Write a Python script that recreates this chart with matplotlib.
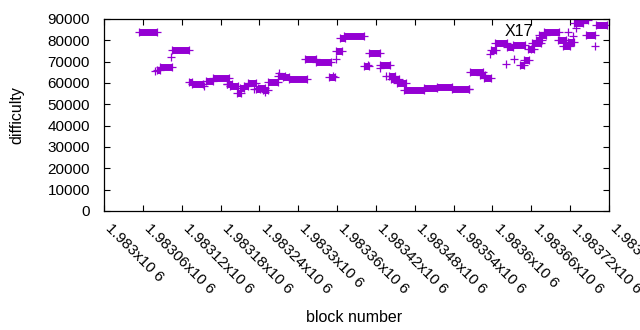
import matplotlib
matplotlib.use("Agg")
import matplotlib.pyplot as plt
from matplotlib.transforms import ScaledTranslation

plt.rcParams['font.family'] = ['Liberation Sans', 'DejaVu Sans']

# difficulty steps: first block, last block, difficulty
seg_start = [1983054, 1983082, 1983087, 1983105, 1983132, 1983136, 1983158, 1983169,
             1983190, 1983195, 1983206, 1983210, 1983217, 1983223, 1983235, 1983238,
             1983245, 1983254, 1983269, 1983277, 1983285, 1983311, 1983327, 1983348,
             1983359, 1983365, 1983371, 1983402, 1983409, 1983426, 1983440, 1983444,
             1983453, 1983464, 1983494, 1983515, 1983537, 1983566, 1983580, 1983587,
             1983597, 1983604, 1983622, 1983631, 1983642, 1983648, 1983655, 1983661,
             1983667, 1983672, 1983679, 1983701, 1983709, 1983717, 1983726, 1983732,
             1983744, 1983760]
seg_end = [1983082, 1983087, 1983105, 1983132, 1983136, 1983153, 1983169, 1983193,
           1983197, 1983207, 1983212, 1983217, 1983223, 1983235, 1983241, 1983248,
           1983254, 1983269, 1983279, 1983285, 1983313, 1983327, 1983350, 1983357,
           1983367, 1983373, 1983402, 1983409, 1983426, 1983441, 1983449, 1983455,
           1983466, 1983494, 1983515, 1983537, 1983563, 1983585, 1983588, 1983597,
           1983605, 1983622, 1983631, 1983650, 1983648, 1983656, 1983664, 1983675,
           1983676, 1983682, 1983703, 1983713, 1983720, 1983726, 1983740, 1983748,
           1983758, 1983777]
seg_diff = [84000, 66300, 67700, 75300, 60600, 59700, 61000, 62200,
            59300, 58400, 55200, 57500, 58600, 59800, 57200, 57500,
            56900, 60300, 63400, 62700, 61800, 71100, 70000, 62800,
            74900, 81000, 82200, 68000, 74000, 68300, 63300, 61700,
            59800, 56600, 57500, 58000, 57000, 65300, 63600, 62500,
            75600, 78600, 77000, 78000, 68500, 70800, 75800, 78600,
            80100, 82500, 84000, 80000, 77200, 79400, 88000, 89500,
            82500, 87000]

# single blocks off the steps
pt_block = [1983079, 1983104, 1983155, 1983190, 1983232, 1983249, 1983271, 1983353,
            1983359, 1983407, 1983426, 1983435, 1983563, 1983596, 1983621, 1983633,
            1983659, 1983717, 1983725, 1983729, 1983758]
pt_diff = [65800, 72000, 58700, 59400, 57200, 56000, 64500, 63300,
           71100, 68400, 67000, 63300, 57300, 73600, 68900, 71100,
           75800, 83700, 82200, 85600, 77300]

xticks = list(range(1983000, 1983781, 60))
yticks = list(range(0, 90001, 10000))

color = '#9400d3'

fig = plt.figure(figsize=(6.4, 3.3), dpi=100)
ax = fig.add_axes([104 / 640, 1 - 211 / 330, 505 / 640, 192 / 330])

lc = ax.hlines(seg_diff, seg_start, seg_end, colors=color, linewidth=5.0)
lc.set_capstyle('butt')
ax.plot(seg_start + seg_end, seg_diff + seg_diff, '+', color=color,
        markersize=5.5, markeredgewidth=0.9, linestyle='none')
ax.plot(pt_block, pt_diff, '+', color=color,
        markersize=5.5, markeredgewidth=0.9, linestyle='none')

ax.text(1983641, 84000, 'X17', fontsize=11.5, ha='center', va='center')

ax.set_xlim(1983000, 1983780)
ax.set_ylim(0, 90000)
ax.set_xticks(xticks)
ax.set_xticklabels(['%gx10 6' % (t / 1e6) for t in xticks],
                   rotation=-45, ha='left', va='top', rotation_mode='anchor')
ax.set_yticks(yticks)
ax.set_yticklabels([str(t) for t in yticks])
ax.tick_params(direction='in', top=True, right=True, length=4.5, width=0.8,
               labelsize=11)
ax.tick_params(axis='y', pad=10)
ax.tick_params(axis='x', pad=7)
shift = ScaledTranslation(9 / 100, 0, fig.dpi_scale_trans)
for lab in ax.get_xticklabels():
    lab.set_transform(lab.get_transform() + shift)
for s in ax.spines.values():
    s.set_linewidth(0.9)

ax.set_xlabel('block number', fontsize=11.5)
ax.xaxis.set_label_coords(0.495, -0.515)
ax.set_ylabel('difficulty', fontsize=11.5)
ax.yaxis.set_label_coords(-0.158, 0.5)

fig.savefig('out.png', dpi=100)
